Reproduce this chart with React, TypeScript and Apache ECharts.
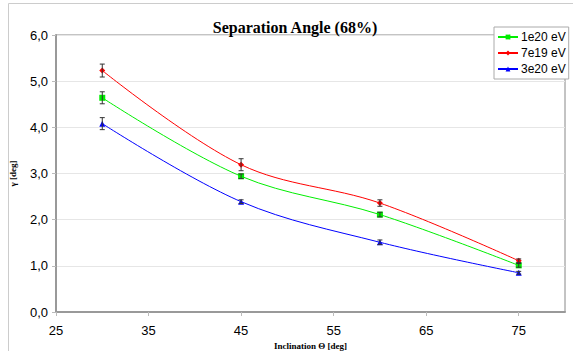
import React, { useEffect, useRef } from "react";
import * as echarts from "echarts";

const inclination = [30, 45, 60, 75];
const X0 = 25;
const seriesNames = ["1e20 eV", "7e19 eV", "3e20 eV"];
const v1e20 = [4.64, 2.94, 2.11, 1.01];
const v7e19 = [5.23, 3.19, 2.36, 1.11];
const v3e20 = [4.08, 2.39, 1.51, 0.85];
const e1e20 = [0.13, 0.05, 0.05, 0.04];
const e7e19 = [0.14, 0.13, 0.07, 0.04];
const e3e20 = [0.13, 0.04, 0.05, 0.03];
const yTicks = [0, 1, 2, 3, 4, 5, 6];
const xTickLabels = [25, 35, 45, 55, 65, 75];

const colors = ["#00ee00", "#ff0000", "#0000ff"];
const symbols = ["rect", "diamond", "triangle"];

export default function App() {
  const ref = useRef<HTMLDivElement>(null);
  useEffect(() => {
    const chart = echarts.init(ref.current!, null, { renderer: "svg" });
    const vals = [v1e20, v7e19, v3e20];
    const errs = [e1e20, e7e19, e3e20];
    const lineSeries = vals.map((v, i) => ({
      name: seriesNames[i],
      type: "line",
      smooth: 0.35,
      symbol: symbols[i],
      symbolSize: i === 1 ? 6 : 6,
      showAllSymbol: true,
      data: inclination.map((x, j) => [x - X0, v[j]]),
      lineStyle: { color: colors[i], width: 1 },
      itemStyle: { color: colors[i] },
      z: 2,
    }));
    const errData: number[][] = [];
    vals.forEach((v, i) =>
      inclination.forEach((x, j) => errData.push([x - X0, v[j] - errs[i][j], v[j] + errs[i][j]]))
    );
    const errSeries = {
      type: "custom",
      name: "err",
      data: errData,
      z: 3,
      silent: true,
      renderItem: (params: any, api: any) => {
        const lo = api.coord([api.value(0), api.value(1)]);
        const hi = api.coord([api.value(0), api.value(2)]);
        const c = 2.5;
        const style = { stroke: "#333", lineWidth: 1 };
        return {
          type: "group",
          children: [
            { type: "line", shape: { x1: lo[0], y1: lo[1], x2: hi[0], y2: hi[1] }, style },
            { type: "line", shape: { x1: lo[0] - c, y1: lo[1], x2: lo[0] + c, y2: lo[1] }, style },
            { type: "line", shape: { x1: hi[0] - c, y1: hi[1], x2: hi[0] + c, y2: hi[1] }, style },
          ],
        };
      },
    };
    chart.setOption({
      animation: false,
      backgroundColor: "#ffffff",
      title: {
        text: "Separation Angle (68%)",
        left: 290,
        textAlign: "center",
        top: 14,
        textStyle: { fontFamily: "Liberation Serif", fontWeight: "bold", fontSize: 16, color: "#000" },
      },
      graphic: [
        {
          type: "rect",
          shape: { x: 8.5, y: 3.5, width: 700, height: 500 },
          style: { fill: "none", stroke: "#cccccc", lineWidth: 1 },
          silent: true,
          z: -10,
        },
      ],
      legend: {
        data: seriesNames,
        orient: "vertical",
        left: 494,
        top: 27,
        itemWidth: 20,
        itemHeight: 6,
        itemGap: 4,
        padding: [4, 3, 4, 3],
        backgroundColor: "#ffffff",
        borderColor: "#aaaaaa",
        borderWidth: 1,
        textStyle: { fontFamily: "Liberation Sans", fontSize: 12, color: "#000", padding: [0, 0, 0, -2] },
        z: 10,
      },
      grid: {
        left: 56,
        right: 8,
        top: 35,
        bottom: 39,
        show: true,
        borderColor: "#888888",
        borderWidth: 1,
        containLabel: false,
        outerBoundsMode: "none",
      },
      xAxis: {
        type: "value",
        min: 0,
        max: 55,
        interval: 10,
        name: "Inclination Θ [deg]",
        nameLocation: "middle",
        nameGap: 28,
        nameTextStyle: { fontFamily: "Liberation Serif", fontWeight: "bold", fontSize: 9, color: "#000" },
        axisLine: { show: true, lineStyle: { color: "#999", width: 2 } },
        axisTick: { show: true, length: 4, lineStyle: { color: "#bbb" } },
        axisLabel: {
          showMaxLabel: false,
          margin: 12,
          fontFamily: "Liberation Sans",
          fontSize: 13,
          color: "#000",
          formatter: (v: number) => (xTickLabels.includes(v + X0) ? String(v + X0) : ""),
        },
        splitLine: { show: false },
      },
      yAxis: {
        type: "value",
        min: yTicks[0],
        max: yTicks[yTicks.length - 1],
        interval: 1,
        name: "γ [deg]",
        nameLocation: "middle",
        nameGap: 39,
        nameRotate: 90,
        nameTextStyle: { fontFamily: "Liberation Serif", fontWeight: "bold", fontSize: 9, color: "#000" },
        axisLine: { show: true, lineStyle: { color: "#999", width: 2 } },
        axisTick: { show: true, length: 4, lineStyle: { color: "#bbb" } },
        axisLabel: {
          margin: 8,
          fontFamily: "Liberation Sans",
          fontSize: 13,
          color: "#000",
          formatter: (v: number) => v.toFixed(1).replace(".", ","),
        },
        splitLine: { show: true, lineStyle: { color: "#e6e6e6", width: 1 } },
      },
      series: [...lineSeries, errSeries],
    });
    return () => chart.dispose();
  }, []);
  return <div ref={ref} style={{ width: 573, height: 351, position: "absolute", left: 0, top: 0 }} />;
}
